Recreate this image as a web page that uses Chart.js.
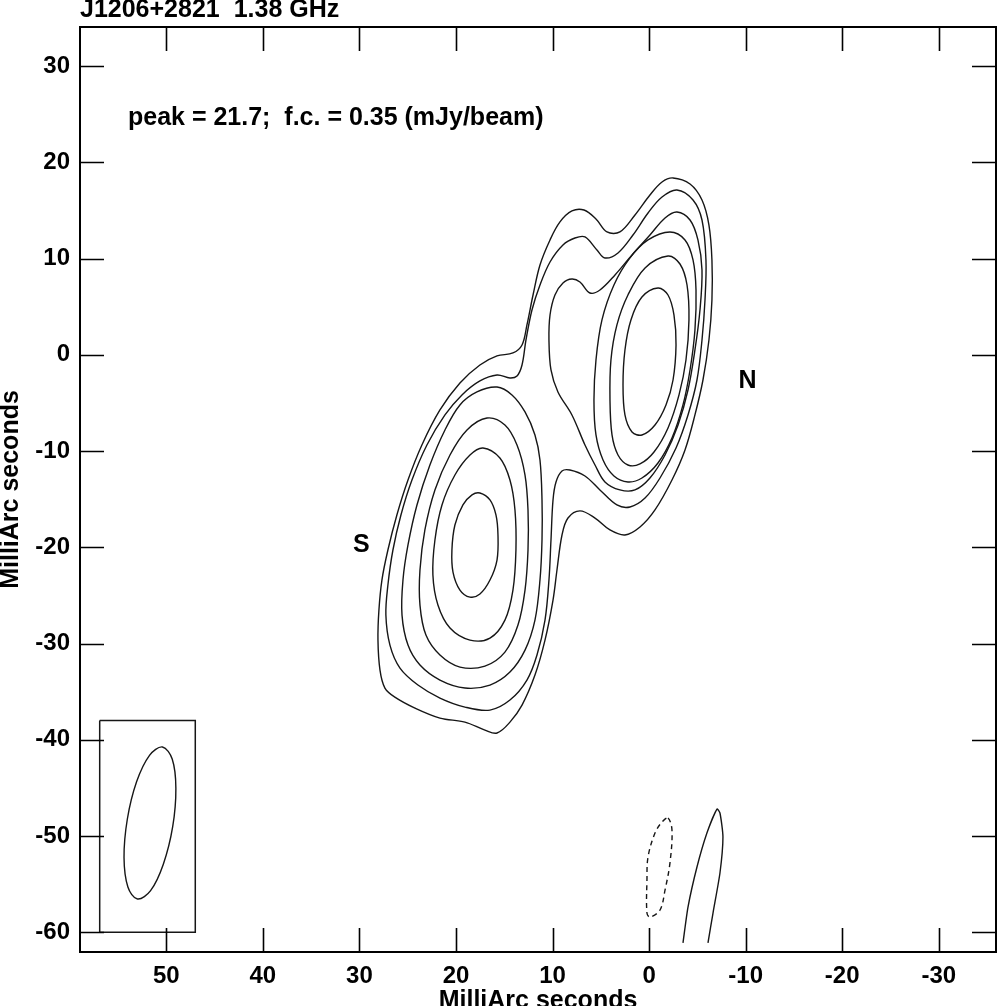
<!DOCTYPE html>
<html>
<head>
<meta charset="utf-8">
<title>J1206+2821 1.38 GHz</title>
<script src="https://cdn.jsdelivr.net/npm/chart.js@4.4.1/dist/chart.umd.min.js"></script>
<style>
  html, body { margin: 0; padding: 0; background: #fff; }
  #wrap { width: 997px; height: 1006px; position: relative; }
</style>
</head>
<body>
<div id="wrap"><canvas id="map"></canvas></div>
<script>
// axis ticks (mas)
const xTicks = [50, 40, 30, 20, 10, 0, -10, -20, -30];
const yTicks = [30, 20, 10, 0, -10, -20, -30, -40, -50, -60];

// contour lines, [RA offset, Dec offset] in mas
// level 1 and 2 enclose both components
const level1 = [
  [-2.48, 18.37], [-4.24, 17.74], [-5.48, 16.08], [-6.20, 13.48], [-6.51, 9.85], [-6.51, 5.69],
  [-6.20, 1.54], [-5.58, -2.62], [-4.75, -6.25], [-3.72, -9.89], [-2.37, -13.01], [-0.61, -16.12],
  [0.94, -17.89], [2.50, -18.72], [4.05, -18.20], [5.60, -16.96], [7.16, -16.22], [8.40, -16.96],
  [9.02, -18.72], [9.54, -22.36], [9.95, -25.48], [10.78, -29.64], [11.82, -33.27], [13.16, -36.39],
  [14.41, -38.16], [15.75, -39.29], [17.00, -38.99], [19.07, -38.16], [21.66, -37.74], [24.25, -36.70],
  [26.33, -35.56], [27.36, -34.62], [27.87, -32.76], [28.08, -29.64], [27.98, -26.52], [27.67, -23.40],
  [27.05, -20.28], [26.12, -16.64], [24.97, -13.01], [23.53, -9.37], [21.66, -5.73], [19.59, -2.93],
  [17.52, -1.06], [15.75, -0.12], [14.10, 0.19], [13.16, 1.02], [12.65, 3.10], [12.02, 6.21],
  [11.30, 9.33], [10.26, 11.93], [9.23, 13.80], [7.99, 14.94], [6.74, 15.04], [5.50, 14.11],
  [4.36, 12.76], [3.02, 12.76], [1.46, 14.52], [-0.09, 16.60], [-1.34, 17.95], [-2.48, 18.37]
];
const level2 = [
  [-2.89, 17.12], [-4.55, 16.08], [-5.48, 14.00], [-5.89, 9.85], [-5.79, 5.69], [-5.48, 1.54],
  [-4.96, -2.62], [-4.03, -6.25], [-2.79, -9.68], [-1.13, -12.80], [0.42, -14.88], [1.98, -15.81],
  [3.33, -15.60], [5.09, -14.04], [6.64, -12.59], [8.20, -11.97], [9.02, -12.07], [9.64, -13.21],
  [9.95, -15.08], [10.16, -19.24], [10.37, -23.40], [10.78, -27.56], [11.61, -31.19], [12.65, -33.79],
  [14.41, -35.87], [16.48, -36.91], [19.07, -36.60], [21.66, -35.66], [23.94, -34.31], [25.80, -32.55],
  [26.84, -30.16], [27.26, -27.04], [27.05, -23.92], [26.53, -20.28], [25.70, -16.64], [24.56, -13.01],
  [23.01, -9.37], [21.14, -6.25], [19.38, -4.17], [17.52, -2.72], [15.75, -2.10], [14.41, -2.41],
  [13.68, -2.20], [13.16, -1.06], [12.75, 1.54], [12.13, 4.65], [11.30, 7.25], [10.26, 9.64],
  [8.92, 11.41], [7.68, 12.13], [6.64, 12.24], [5.40, 10.89], [4.57, 10.06], [3.22, 10.58],
  [1.67, 12.44], [0.11, 14.73], [-1.34, 16.39], [-2.89, 17.12]
];
// level 3 splits: north part (with the lobe to the east) and south part
const level3N = [
  [-2.89, 14.83], [-4.24, 14.00], [-5.06, 11.93], [-5.48, 8.81], [-5.27, 4.65], [-4.75, 0.50],
  [-4.03, -3.66], [-3.00, -7.29], [-1.65, -10.41], [-0.09, -12.80], [1.46, -14.04], [3.02, -14.04],
  [4.57, -13.21], [5.60, -11.45], [6.64, -9.37], [7.99, -6.25], [9.44, -3.86], [10.16, -1.58],
  [10.37, 1.54], [10.26, 4.13], [9.75, 6.21], [8.92, 7.46], [7.99, 7.87], [7.16, 7.56],
  [6.12, 6.42], [5.09, 6.73], [3.53, 8.29], [1.77, 10.37], [-0.09, 12.44], [-1.65, 14.21], [-2.89, 14.83]
];
const level3S = [
  [17.83, -3.86], [15.75, -3.35], [14.20, -4.17], [12.85, -5.94], [11.82, -8.33], [11.30, -10.93],
  [11.09, -15.08], [11.09, -19.24], [11.30, -23.40], [11.82, -27.56], [12.85, -30.68], [14.41, -32.96],
  [16.48, -34.31], [19.07, -34.62], [21.66, -33.79], [23.73, -32.23], [24.97, -30.16], [25.59, -27.04],
  [25.49, -23.40], [24.97, -19.76], [24.04, -15.60], [22.70, -11.45], [21.14, -7.81], [19.59, -5.21],
  [17.83, -3.86]
];
const level4S = [
  [16.79, -6.57], [14.93, -7.29], [13.68, -9.37], [12.85, -12.49], [12.54, -16.12], [12.54, -20.28],
  [12.85, -24.44], [13.58, -28.08], [14.93, -30.89], [17.00, -32.34], [19.59, -32.44], [21.66, -31.19],
  [23.11, -29.12], [23.73, -26.00], [23.73, -22.36], [23.22, -18.20], [22.18, -14.04], [20.62, -10.41],
  [18.86, -7.81], [16.79, -6.57]
];
const level5S = [
  [17.20, -9.68], [15.45, -10.72], [14.41, -13.01], [13.89, -16.12], [13.79, -20.28], [14.10, -24.44],
  [14.93, -27.56], [16.48, -29.43], [18.55, -29.64], [20.62, -28.39], [21.87, -26.00], [22.39, -22.88],
  [22.18, -19.24], [21.45, -15.60], [20.11, -12.49], [18.55, -10.41], [17.20, -9.68]
];
const level6S = [
  [17.52, -14.36], [16.48, -15.08], [15.86, -16.64], [15.65, -18.72], [15.75, -21.32], [16.48, -23.40],
  [17.52, -24.85], [18.55, -25.17], [19.59, -24.44], [20.31, -22.57], [20.42, -20.28], [20.11, -17.68],
  [19.28, -15.60], [18.34, -14.56], [17.52, -14.36]
];
const level4N = [
  [-2.16, 12.76], [-3.72, 11.93], [-4.55, 9.85], [-4.86, 6.73], [-4.75, 2.58], [-4.24, -1.58],
  [-3.51, -5.21], [-2.37, -8.64], [-0.92, -11.24], [0.74, -12.80], [2.19, -13.21], [3.64, -12.59],
  [4.77, -10.93], [5.50, -8.33], [5.71, -4.69], [5.50, -0.54], [4.88, 3.62], [3.64, 7.25],
  [1.98, 10.06], [0.11, 11.93], [-2.16, 12.76]
];
const level5N = [
  [-1.96, 10.26], [-3.20, 9.43], [-3.93, 7.25], [-4.13, 3.62], [-3.82, -0.54], [-3.10, -4.17],
  [-1.96, -7.60], [-0.51, -10.10], [0.94, -11.34], [2.19, -11.45], [3.22, -10.41], [3.84, -8.33],
  [4.05, -4.69], [3.95, -0.54], [3.33, 3.10], [2.19, 6.21], [0.42, 9.02], [-1.96, 10.26]
];
const level6N = [
  [-0.92, 6.94], [-1.96, 6.21], [-2.58, 4.13], [-2.79, 1.02], [-2.48, -2.62], [-1.75, -5.21],
  [-0.61, -7.29], [0.74, -8.33], [1.77, -8.02], [2.50, -6.25], [2.70, -3.14], [2.50, 0.50],
  [1.88, 3.62], [0.74, 6.00], [-0.92, 6.94]
];
// noise contours near the bottom
const negContour = [
  [-1.96, -48.12], [-2.37, -49.37], [-2.16, -52.80], [-1.65, -55.61], [-1.13, -57.68], [-0.09, -58.41],
  [0.22, -57.99], [0.22, -54.56], [0.11, -52.17], [-0.61, -49.68], [-1.34, -48.54], [-1.96, -48.12]
];
const posSpur = [
  [-3.51, -61.10], [-4.03, -57.37], [-4.96, -53.21], [-5.99, -49.68], [-7.03, -47.19], [-7.34, -47.60],
  [-7.65, -50.09], [-7.34, -53.83], [-6.62, -57.99], [-6.10, -61.10]
];
// restoring beam and its box
const beam = [
  [50.40, -40.74], [49.39, -42.00], [49.01, -45.02], [49.34, -49.02], [50.31, -52.92], [51.63, -55.67],
  [52.99, -56.53], [53.98, -55.28], [54.38, -52.25], [54.04, -48.25], [53.08, -44.36], [51.74, -41.61],
  [50.40, -40.74]
];
const beamBox = [[56.9, -38.0], [47.0, -38.0], [47.0, -60.0], [56.9, -60.0], [56.9, -38.0]];

const FONT = "'Liberation Sans', Arial, Helvetica, sans-serif";
const INK = "#161616";
const NONE = "rgba(0,0,0,0)";

function contour(pts, opts) {
  return Object.assign({
    data: pts.map(p => ({ x: p[0], y: p[1] })),
    showLine: true,
    borderColor: INK,
    borderWidth: 1.4,
    pointRadius: 0,
    pointHoverRadius: 0,
    tension: 0.35,
    fill: false
  }, opts || {});
}

// closed ring: pad with one neighbour on each end so the spline stays smooth at the seam,
// and leave the two padding segments undrawn
function ring(pts, opts) {
  const n = pts.length;
  const padded = [pts[n - 2]].concat(pts, [pts[1]]);
  const last = padded.length - 1;
  return contour(padded, Object.assign({
    segment: { borderColor: c => (c.p0DataIndex === 0 || c.p1DataIndex === last) ? NONE : undefined }
  }, opts || {}));
}

const datasets = [
  ring(level1), ring(level2), ring(level3N), ring(level3S),
  ring(level4S), ring(level5S), ring(level6S),
  ring(level4N), ring(level5N), ring(level6N),
  ring(negContour, { borderDash: [5, 4] }),
  contour(posSpur, { tension: 0.2 }),
  ring(beam),
  contour(beamBox, { tension: 0, borderWidth: 1.5 })
];

// text on the map
const notes = [
  { text: "peak = 21.7;  f.c. = 0.35 (mJy/beam)", x: 53.97, y: 23.9, align: "left", base: "alphabetic" },
  { text: "S", x: 29.8, y: -19.8, align: "center", base: "middle" },
  { text: "N", x: -10.2, y: -2.7, align: "center", base: "middle" }
];

const framePlugin = {
  id: "frame",
  afterDraw(chart) {
    const { ctx, chartArea: a, scales } = chart;
    const xs = scales.x, ys = scales.y;
    const tl = 24;
    ctx.save();
    ctx.strokeStyle = "#000";
    ctx.lineWidth = 1.6;
    ctx.beginPath();
    xTicks.forEach(v => {
      const px = Math.round(xs.getPixelForValue(v)) + 0.5;
      ctx.moveTo(px, a.bottom); ctx.lineTo(px, a.bottom - tl);
      ctx.moveTo(px, a.top); ctx.lineTo(px, a.top + tl);
    });
    yTicks.forEach(v => {
      const py = Math.round(ys.getPixelForValue(v)) + 0.5;
      ctx.moveTo(a.left, py); ctx.lineTo(a.left + tl, py);
      ctx.moveTo(a.right, py); ctx.lineTo(a.right - tl, py);
    });
    ctx.stroke();
    ctx.lineWidth = 2;
    ctx.strokeRect(a.left, a.top, a.right - a.left, a.bottom - a.top);

    ctx.fillStyle = "#000";
    ctx.font = "bold 25px " + FONT;
    notes.forEach(n => {
      ctx.textAlign = n.align;
      ctx.textBaseline = n.base;
      ctx.fillText(n.text, xs.getPixelForValue(n.x), ys.getPixelForValue(n.y));
    });
    ctx.textAlign = "left";
    ctx.textBaseline = "alphabetic";
    ctx.fillText("J1206+2821  1.38 GHz", a.left, a.top - 10);
    ctx.restore();
  }
};

new Chart(document.getElementById("map"), {
  type: "scatter",
  data: { datasets: datasets },
  options: {
    responsive: true,
    maintainAspectRatio: false,
    animation: false,
    layout: { padding: { top: 27, right: 1, left: 0, bottom: 0 } },
    plugins: { legend: { display: false }, tooltip: { enabled: false } },
    scales: {
      x: {
        type: "linear",
        reverse: true,
        min: -35.93,
        max: 58.94,
        afterBuildTicks: s => { s.ticks = xTicks.map(v => ({ value: v })); },
        afterFit: s => { s.height = 54; },
        grid: { display: false, drawTicks: false },
        border: { display: false },
        ticks: { color: "#000", padding: 10, maxRotation: 0, autoSkip: false, font: { family: FONT, size: 24, weight: "bold" } },
        title: { display: true, text: "MilliArc seconds", color: "#000", padding: { top: 0, bottom: -10 }, font: { family: FONT, size: 25, weight: "bold" } }
      },
      y: {
        type: "linear",
        min: -62.04,
        max: 34.05,
        afterBuildTicks: s => { s.ticks = yTicks.map(v => ({ value: v })); },
        afterFit: s => { s.width = 80; },
        grid: { display: false, drawTicks: false },
        border: { display: false },
        ticks: { color: "#000", padding: 10, autoSkip: false, font: { family: FONT, size: 24, weight: "bold" } },
        title: { display: true, text: "MilliArc seconds", color: "#000", padding: { top: -4, bottom: 0 }, font: { family: FONT, size: 25, weight: "bold" } }
      }
    }
  },
  plugins: [framePlugin]
});
</script>
</body>
</html>
